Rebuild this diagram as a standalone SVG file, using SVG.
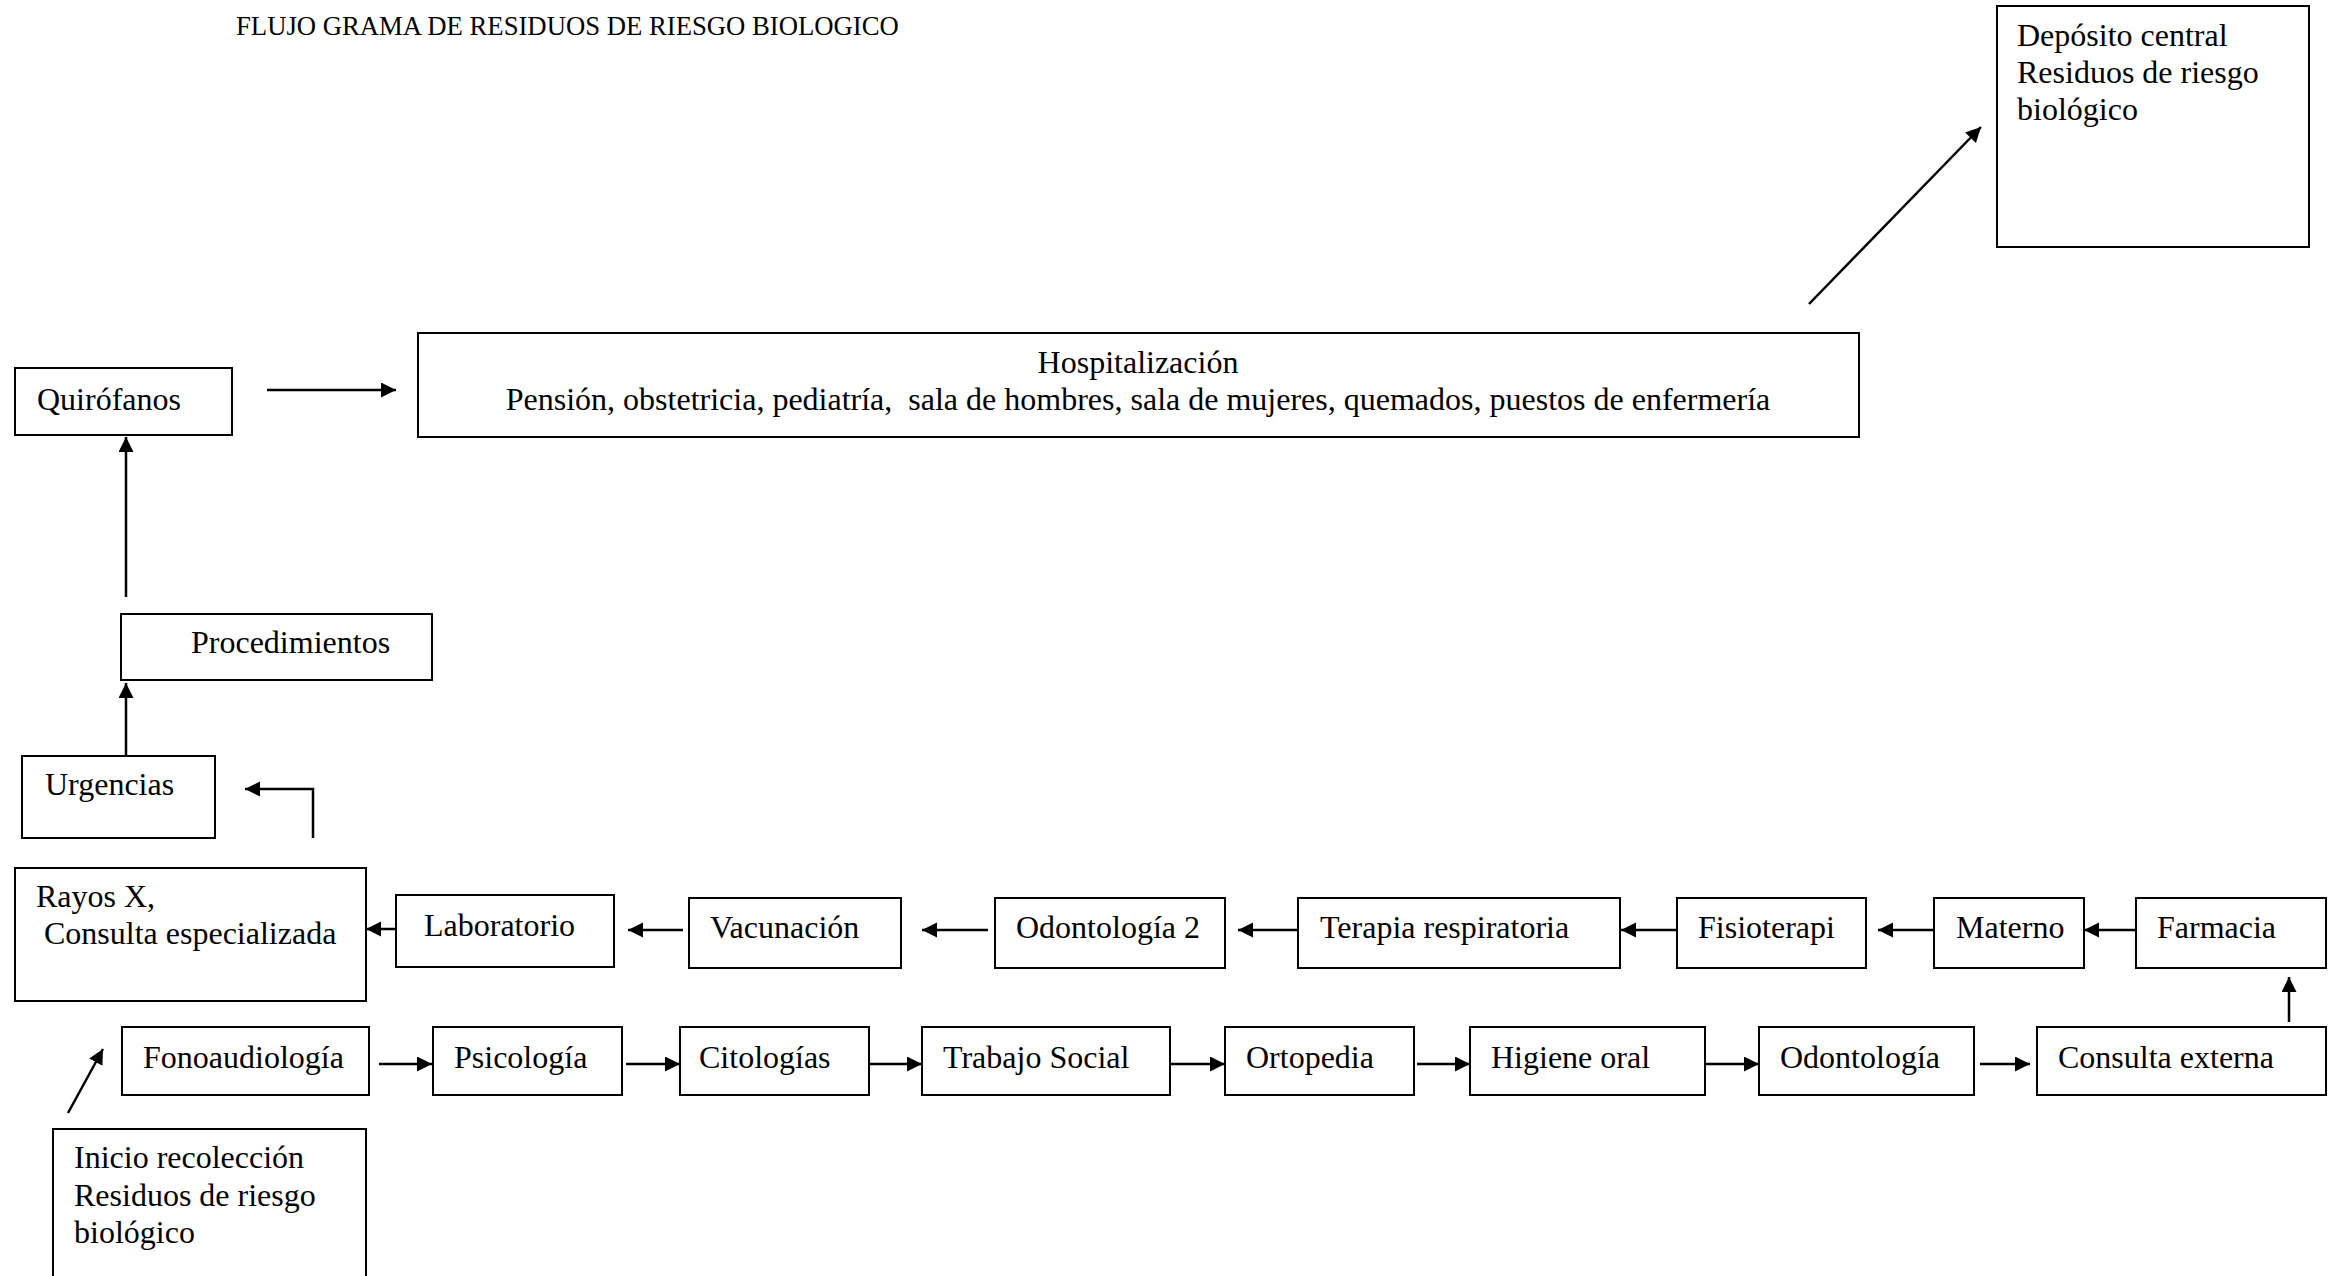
<svg xmlns="http://www.w3.org/2000/svg" width="2332" height="1276" viewBox="0 0 2332 1276">
<style>
  .box { fill: #ffffff; stroke: #000000; stroke-width: 2; }
  .lbl { font-family: "Liberation Serif", "Times New Roman", serif; font-size: 32px; fill: #000000; }
  .title { font-family: "Liberation Serif", "Times New Roman", serif; font-size: 26.7px; fill: #000000; }
  .conn { fill: none; stroke: #000000; stroke-width: 2.5; }
</style>
<defs>
  <marker id="arr" markerUnits="userSpaceOnUse" markerWidth="16" markerHeight="16" refX="15" refY="7.5" orient="auto">
    <path d="M0,0 L15,7.5 L0,15 z" fill="#000000"/>
  </marker>
</defs>
<rect width="2332" height="1276" fill="#ffffff"/>
<text class="title" x="236" y="35">FLUJO GRAMA DE RESIDUOS DE RIESGO BIOLOGICO</text>

<g id="connectors">
  <line class="conn" x1="267" y1="390" x2="396" y2="390" marker-end="url(#arr)"/>
  <line class="conn" x1="126" y1="597" x2="126" y2="437" marker-end="url(#arr)"/>
  <line class="conn" x1="126" y1="756" x2="126" y2="683" marker-end="url(#arr)"/>
  <path class="conn" d="M313,838 V789 H245" marker-end="url(#arr)"/>
  <line class="conn" x1="1809" y1="304" x2="1981" y2="127" marker-end="url(#arr)"/>
  <line class="conn" x1="396" y1="929" x2="366" y2="929" marker-end="url(#arr)"/>
  <line class="conn" x1="683" y1="930" x2="628" y2="930" marker-end="url(#arr)"/>
  <line class="conn" x1="988" y1="930" x2="922" y2="930" marker-end="url(#arr)"/>
  <line class="conn" x1="1297" y1="930" x2="1238" y2="930" marker-end="url(#arr)"/>
  <line class="conn" x1="1677" y1="930" x2="1621" y2="930" marker-end="url(#arr)"/>
  <line class="conn" x1="1934" y1="930" x2="1878" y2="930" marker-end="url(#arr)"/>
  <line class="conn" x1="2136" y1="930" x2="2084" y2="930" marker-end="url(#arr)"/>
  <line class="conn" x1="2289" y1="1022" x2="2289" y2="977" marker-end="url(#arr)"/>
  <line class="conn" x1="1980" y1="1064" x2="2030" y2="1064" marker-end="url(#arr)"/>
  <line class="conn" x1="1705" y1="1064" x2="1759" y2="1064" marker-end="url(#arr)"/>
  <line class="conn" x1="1417" y1="1064" x2="1470" y2="1064" marker-end="url(#arr)"/>
  <line class="conn" x1="1170" y1="1064" x2="1225" y2="1064" marker-end="url(#arr)"/>
  <line class="conn" x1="868" y1="1064" x2="922" y2="1064" marker-end="url(#arr)"/>
  <line class="conn" x1="626" y1="1064" x2="680" y2="1064" marker-end="url(#arr)"/>
  <line class="conn" x1="379" y1="1064" x2="432" y2="1064" marker-end="url(#arr)"/>
  <line class="conn" x1="68" y1="1113" x2="103" y2="1049" marker-end="url(#arr)"/>
</g>

<g id="deposito">
  <rect class="box" x="1997" y="6" width="312" height="241"/>
  <text class="lbl" x="2017" y="46">Depósito central</text>
  <text class="lbl" x="2017" y="83">Residuos de riesgo</text>
  <text class="lbl" x="2017" y="120">biológico</text>
</g>
<g id="hospitalizacion">
  <rect class="box" x="418" y="333" width="1441" height="104"/>
  <text class="lbl" x="1138" y="373" text-anchor="middle">Hospitalización</text>
  <text class="lbl" x="1138" y="410" text-anchor="middle" xml:space="preserve">Pensión, obstetricia, pediatría,  sala de hombres, sala de mujeres, quemados, puestos de enfermería</text>
</g>
<g id="quirofanos">
  <rect class="box" x="15" y="368" width="217" height="67"/>
  <text class="lbl" x="37" y="410">Quirófanos</text>
</g>
<g id="procedimientos">
  <rect class="box" x="121" y="614" width="311" height="66"/>
  <text class="lbl" x="191" y="653">Procedimientos</text>
</g>
<g id="urgencias">
  <rect class="box" x="22" y="756" width="193" height="82"/>
  <text class="lbl" x="45" y="795">Urgencias</text>
</g>
<g id="rayosx">
  <rect class="box" x="15" y="868" width="351" height="133"/>
  <text class="lbl" x="36" y="907">Rayos X,</text>
  <text class="lbl" x="44" y="944">Consulta especializada</text>
</g>
<g id="laboratorio">
  <rect class="box" x="396" y="895" width="218" height="72"/>
  <text class="lbl" x="424" y="936">Laboratorio</text>
</g>
<g id="vacunacion">
  <rect class="box" x="689" y="898" width="212" height="70"/>
  <text class="lbl" x="710" y="938">Vacunación</text>
</g>
<g id="odontologia2">
  <rect class="box" x="995" y="898" width="230" height="70"/>
  <text class="lbl" x="1016" y="938">Odontología 2</text>
</g>
<g id="terapia">
  <rect class="box" x="1298" y="898" width="322" height="70"/>
  <text class="lbl" x="1320" y="938">Terapia respiratoria</text>
</g>
<g id="fisioterapi">
  <rect class="box" x="1677" y="898" width="189" height="70"/>
  <text class="lbl" x="1698" y="938">Fisioterapi</text>
</g>
<g id="materno">
  <rect class="box" x="1934" y="898" width="150" height="70"/>
  <text class="lbl" x="1956" y="938">Materno</text>
</g>
<g id="farmacia">
  <rect class="box" x="2136" y="898" width="190" height="70"/>
  <text class="lbl" x="2157" y="938">Farmacia</text>
</g>
<g id="fonoaudiologia">
  <rect class="box" x="122" y="1027" width="247" height="68"/>
  <text class="lbl" x="143" y="1068">Fonoaudiología</text>
</g>
<g id="psicologia">
  <rect class="box" x="433" y="1027" width="189" height="68"/>
  <text class="lbl" x="454" y="1068">Psicología</text>
</g>
<g id="citologias">
  <rect class="box" x="680" y="1027" width="189" height="68"/>
  <text class="lbl" x="699" y="1068">Citologías</text>
</g>
<g id="trabajosocial">
  <rect class="box" x="922" y="1027" width="248" height="68"/>
  <text class="lbl" x="943" y="1068">Trabajo Social</text>
</g>
<g id="ortopedia">
  <rect class="box" x="1225" y="1027" width="189" height="68"/>
  <text class="lbl" x="1246" y="1068">Ortopedia</text>
</g>
<g id="higiene">
  <rect class="box" x="1470" y="1027" width="235" height="68"/>
  <text class="lbl" x="1491" y="1068">Higiene oral</text>
</g>
<g id="odontologia">
  <rect class="box" x="1759" y="1027" width="215" height="68"/>
  <text class="lbl" x="1780" y="1068">Odontología</text>
</g>
<g id="consultaexterna">
  <rect class="box" x="2037" y="1027" width="289" height="68"/>
  <text class="lbl" x="2058" y="1068">Consulta externa</text>
</g>
<g id="inicio">
  <rect class="box" x="53" y="1129" width="313" height="170"/>
  <text class="lbl" x="74" y="1168">Inicio recolección</text>
  <text class="lbl" x="74" y="1206">Residuos de riesgo</text>
  <text class="lbl" x="74" y="1243">biológico</text>
</g>
</svg>
